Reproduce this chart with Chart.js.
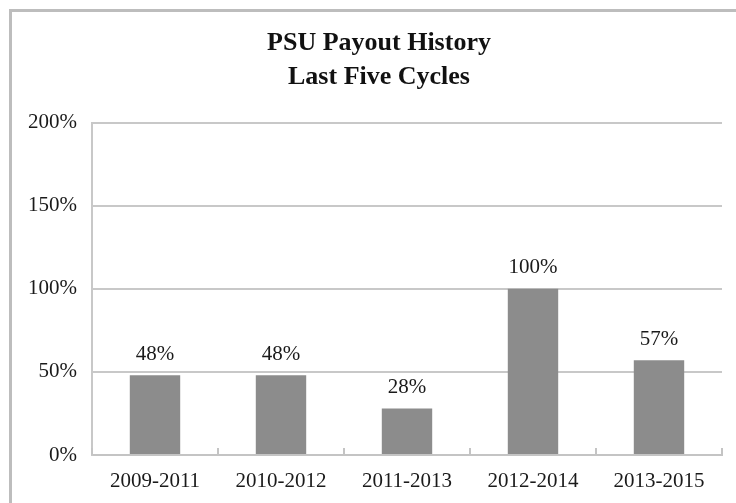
<!DOCTYPE html>
<html>
<head>
<meta charset="utf-8">
<script src="https://cdn.jsdelivr.net/npm/chart.js@4/dist/chart.umd.min.js"></script>
<style>
  html, body { margin: 0; padding: 0; background: #fff; overflow: hidden; }
  #wrap { position: relative; width: 736px; height: 503px; }
  #frame { position: absolute; left: 9px; top: 9px; width: 800px; height: 600px;
           border: 3px solid #bdbdbd; pointer-events: none; }
</style>
</head>
<body>
<div id="wrap">
  <canvas id="chart" width="736" height="503"></canvas>
  <div id="frame"></div>
</div>
<script>
const cycles = ['2009-2011', '2010-2012', '2011-2013', '2012-2014', '2013-2015'];
const payout = [48, 48, 28, 100, 57];
const yTicks = [0, 50, 100, 150, 200];

const serif = '"Liberation Serif", "Times New Roman", serif';

// value labels above each bar
const barLabels = {
  id: 'barLabels',
  afterDatasetsDraw(chart) {
    const ctx = chart.ctx;
    const meta = chart.getDatasetMeta(0);
    ctx.save();
    ctx.font = '21px ' + serif;
    ctx.fillStyle = '#1a1a1a';
    ctx.textAlign = 'center';
    ctx.textBaseline = 'middle';
    meta.data.forEach((bar, i) => {
      ctx.fillText(payout[i] + '%', bar.x, bar.y - 21);
    });
    ctx.restore();
  }
};

// small tick marks pointing up from the x axis at category boundaries
const innerTicks = {
  id: 'innerTicks',
  afterDraw(chart) {
    const ctx = chart.ctx;
    const x = chart.scales.x;
    const area = chart.chartArea;
    ctx.save();
    ctx.strokeStyle = '#c4c4c4';
    ctx.lineWidth = 2;
    for (let i = 0; i <= cycles.length; i++) {
      let px;
      if (i === 0) px = area.left;
      else if (i === cycles.length) px = area.right;
      else px = (x.getPixelForValue(i - 1) + x.getPixelForValue(i)) / 2;
      ctx.beginPath();
      ctx.moveTo(px, area.bottom);
      ctx.lineTo(px, area.bottom - 7);
      ctx.stroke();
    }
    ctx.restore();
  }
};

// nudge the title a little to the right, as in the original
const shiftTitle = {
  id: 'shiftTitle',
  afterLayout(chart) {
    const t = chart.titleBlock;
    if (t) { t.left += 12; t.right += 12; }
  }
};

new Chart(document.getElementById('chart'), {
  type: 'bar',
  data: {
    labels: cycles,
    datasets: [{
      data: payout,
      backgroundColor: '#8c8c8c',
      borderWidth: 0,
      barPercentage: 0.4,
      categoryPercentage: 1.0
    }]
  },
  options: {
    responsive: false,
    animation: false,
    layout: { padding: { left: 12, right: 14, top: 0, bottom: 0 } },
    plugins: {
      legend: { display: false },
      tooltip: { enabled: false },
      title: {
        display: true,
        text: ['PSU Payout History', 'Last Five Cycles'],
        color: '#111',
        font: { family: serif, size: 26, weight: 'bold', lineHeight: 1.32 },
        padding: { top: 26, bottom: 28 }
      }
    },
    scales: {
      x: {
        afterFit(scale) { scale.height = 48; },
        grid: { display: false, drawTicks: false },
        border: { display: true, color: '#c4c4c4', width: 2 },
        ticks: {
          color: '#1a1a1a',
          padding: 14,
          font: { family: serif, size: 21 }
        }
      },
      y: {
        min: 0,
        max: 200,
        afterBuildTicks(scale) {
          scale.ticks = yTicks.map(v => ({ value: v }));
        },
        afterFit(scale) { scale.width = 80; },
        grid: { color: '#c8c8c8', lineWidth: 2, drawTicks: false },
        border: { display: true, color: '#c8c8c8', width: 2 },
        ticks: {
          color: '#1a1a1a',
          padding: 15,
          font: { family: serif, size: 21 },
          callback: v => v + '%'
        }
      }
    }
  },
  plugins: [barLabels, innerTicks, shiftTitle]
});
</script>
</body>
</html>
